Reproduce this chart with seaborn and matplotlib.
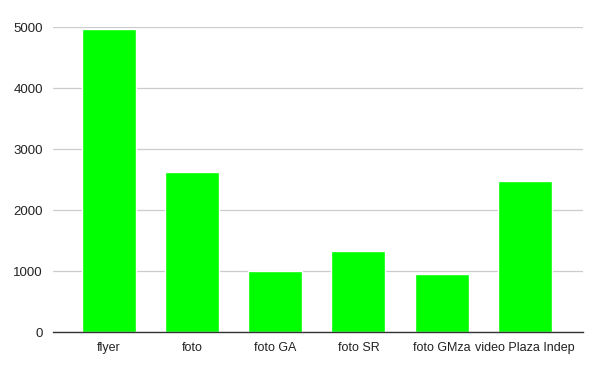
import matplotlib
matplotlib.use("Agg")
import matplotlib.pyplot as plt
import seaborn as sns
import pandas as pd

categories = ["flyer", "foto", "foto GA", "foto SR", "foto GMza", "video Plaza Indep"]
values = [4975, 2620, 1005, 1335, 945, 2475]
yticks = [0, 1000, 2000, 3000, 4000, 5000]

df = pd.DataFrame({"cat": categories, "val": values})

sns.set_theme(style="white")
plt.rcParams["font.family"] = ["Liberation Sans", "DejaVu Sans"]

fig = plt.figure(figsize=(6, 3.71), dpi=100)
ax = fig.add_axes([0.088, 0.105, 0.884, 0.822])
sns.barplot(data=df, x="cat", y="val", color="#00ff00", saturation=1, width=0.65, ax=ax, zorder=3)
ax.set_ylim(0, 5000)
ax.set_xlim(-0.67, 5.7)
ax.set_yticks(yticks)
ax.set_yticklabels([str(t) for t in yticks])
ax.yaxis.grid(True, color="#cccccc", linewidth=0.9, zorder=0)
ax.set_xlabel("")
ax.set_ylabel("")
for s in ["top", "right", "left"]:
    ax.spines[s].set_visible(False)
ax.spines["bottom"].set_color("#333333")
ax.spines["bottom"].set_linewidth(1)
ax.spines["bottom"].set_zorder(4)
ax.tick_params(axis="both", length=0, colors="#222222")
ax.tick_params(axis="x", pad=7, labelsize=9)
ax.tick_params(axis="y", pad=7, labelsize=9.5)
fig.savefig("out.png", dpi=100)
